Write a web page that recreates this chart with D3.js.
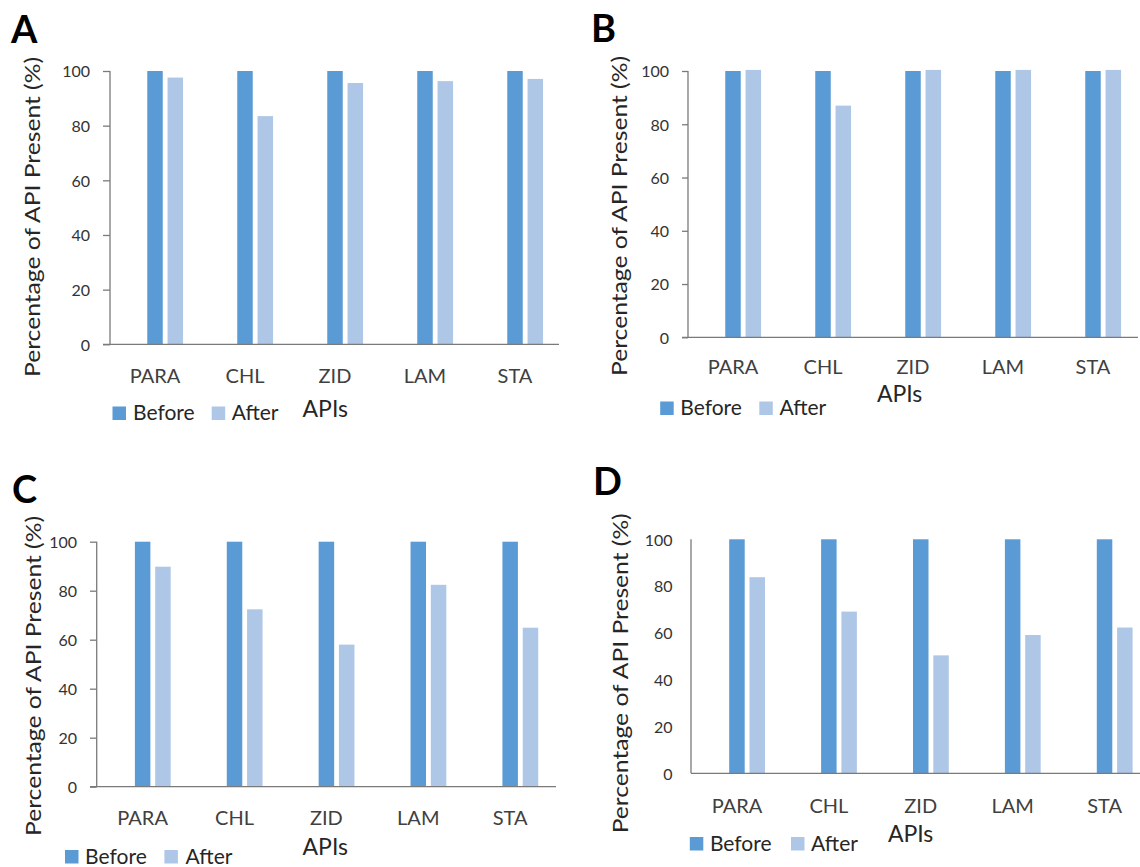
<!DOCTYPE html>
<html>
<head>
<meta charset="utf-8">
<script src="https://cdn.jsdelivr.net/npm/d3@7"></script>
<style>
  html, body { margin: 0; padding: 0; background: #fff; }
  svg { display: block; font-family: Lato, "Open Sans", sans-serif; }
</style>
</head>
<body>
<svg id="chart" width="1140" height="867"></svg>
<script>
// ---------- data ----------
const categories = ["PARA", "CHL", "ZID", "LAM", "STA"];
const seriesNames = ["Before", "After"];
const yTicks = [0, 20, 40, 60, 80, 100];
const panelLetters = ["A", "B", "C", "D"];

const beforeA = [100, 100, 100, 100, 100];
const afterA  = [97.6, 83.5, 95.6, 96.3, 97.1];
const beforeB = [100, 100, 100, 100, 100];
const afterB  = [100.4, 87.0, 100.4, 100.4, 100.4];
const beforeC = [100, 100, 100, 100, 100];
const afterC  = [89.8, 72.4, 58.0, 82.4, 64.9];
const beforeD = [100, 100, 100, 100, 100];
const afterD  = [83.8, 69.1, 50.4, 59.1, 62.3];

const yTitle = "Percentage of API Present (%)";
const xTitle = "APIs";

// ---------- layout (per panel) ----------
const colors = { Before: "#5B9BD5", After: "#AFC7E7" };
const panels = [
  { letter: "A", before: beforeA, after: afterA,
    xr: [110, 560], yr: [344.3, 71], tick: 7, xEnd: 559,
    letterPos: [11, 43], yTitleX: 40, yTitleY: 217, catY: 382.5,
    leg: { y: 420, sw1: 112.5, t1: 133, sw2: 211.7, t2: 231.7, apisX: 302.5, apisY: 417 } },
  { letter: "B", before: beforeB, after: afterB,
    xr: [688, 1138], yr: [337.3, 71], tick: 6, xEnd: 1138,
    letterPos: [591, 41.7], yTitleX: 627, yTitleY: 216, catY: 374,
    leg: { y: 415, sw1: 660.2, t1: 680.3, sw2: 759.3, t2: 779.4, apisX: 876.9, apisY: 401.7 } },
  { letter: "C", before: beforeC, after: afterC,
    xr: [96.7, 556.1], yr: [786.7, 541.7], tick: 6.7, xEnd: 556,
    letterPos: [12, 503.3], yTitleX: 41, yTitleY: 676, catY: 825,
    leg: { y: 863.5, sw1: 65, t1: 85.1, sw2: 164.4, t2: 185.6, apisX: 302.5, apisY: 855 } },
  { letter: "D", before: beforeD, after: afterD,
    xr: [691, 1150.5], yr: [773.3, 539.3], tick: 0, xEnd: 1140,
    letterPos: [593, 495], yTitleX: 627.5, yTitleY: 673.3, catY: 812.5,
    leg: { y: 850.5, sw1: 689.8, t1: 709.9, sw2: 791, t2: 811.1, apisX: 887.9, apisY: 841.7 } }
];

const svg = d3.select("#chart");
const barW = 15.5, barOff = 20.3, sw = 13.5;

panels.forEach(p => {
  const g = svg.append("g");
  const x = d3.scaleBand().domain(categories).range(p.xr);
  const y = d3.scaleLinear().domain([0, 100]).range(p.yr);
  const rows = categories.map((c, i) => ({ cat: c, Before: p.before[i], After: p.after[i] }));

  // bars
  seriesNames.forEach((s, si) => {
    g.selectAll(null).data(rows).enter().append("rect")
      .attr("x", d => x(d.cat) + x.bandwidth() / 2 + si * barOff - barW / 2)
      .attr("y", d => y(d[s]))
      .attr("width", barW)
      .attr("height", d => y(0) - y(d[s]))
      .attr("fill", colors[s]);
  });

  // y axis
  const yAxis = d3.axisLeft(y).tickValues(yTicks).tickSize(p.tick).tickPadding(0).tickFormat(d3.format("d"));
  const ya = g.append("g").attr("transform", `translate(${p.xr[0]},0)`).call(yAxis);
  ya.select(".domain").attr("d", `M0,${p.yr[1]}V${p.yr[0]}`).attr("stroke", "#7a7a7a").attr("stroke-width", 1.3);
  ya.selectAll(".tick line").attr("stroke", "#7a7a7a").attr("stroke-width", 1.3);
  ya.selectAll(".tick text")
    .attr("x", p.letter === "D" ? -18.5 : -(p.tick + 13))
    .attr("dy", "0.36em")
    .attr("font-size", 16).attr("fill", "#333").attr("font-family", "Lato");

  // x axis line
  g.append("line").attr("x1", p.xr[0] - p.tick).attr("x2", p.xEnd)
    .attr("y1", y(0)).attr("y2", y(0)).attr("stroke", "#7a7a7a").attr("stroke-width", 1.3);

  // category labels
  g.selectAll(null).data(categories).enter().append("text")
    .attr("x", d => x(d) + x.bandwidth() / 2)
    .attr("y", p.catY)
    .attr("text-anchor", "middle")
    .attr("font-size", 20).attr("fill", "#404040")
    .text(d => d);

  // y title
  g.append("text")
    .attr("transform", `translate(${p.yTitleX},${p.yTitleY}) rotate(-90)`)
    .attr("text-anchor", "middle")
    .attr("font-size", 21).attr("fill", "#262626")
    .attr("textLength", 320).attr("lengthAdjust", "spacingAndGlyphs")
    .text(yTitle);

  // panel letter
  g.append("text").attr("x", p.letterPos[0]).attr("y", p.letterPos[1])
    .attr("font-size", 38).attr("font-weight", "bold").attr("fill", "#000")
    .text(p.letter);

  // legend
  const L = p.leg;
  [[L.sw1, L.t1, "Before"], [L.sw2, L.t2, "After"]].forEach(([sx, tx, name]) => {
    g.append("rect").attr("x", sx).attr("y", L.y - sw).attr("width", sw).attr("height", sw).attr("fill", colors[name]);
    g.append("text").attr("x", tx).attr("y", L.y).attr("font-size", 21).attr("fill", "#262626").text(name);
  });
  g.append("text").attr("x", L.apisX).attr("y", L.apisY).attr("font-size", 23).attr("fill", "#262626").text(xTitle);
});
</script>
</body>
</html>
